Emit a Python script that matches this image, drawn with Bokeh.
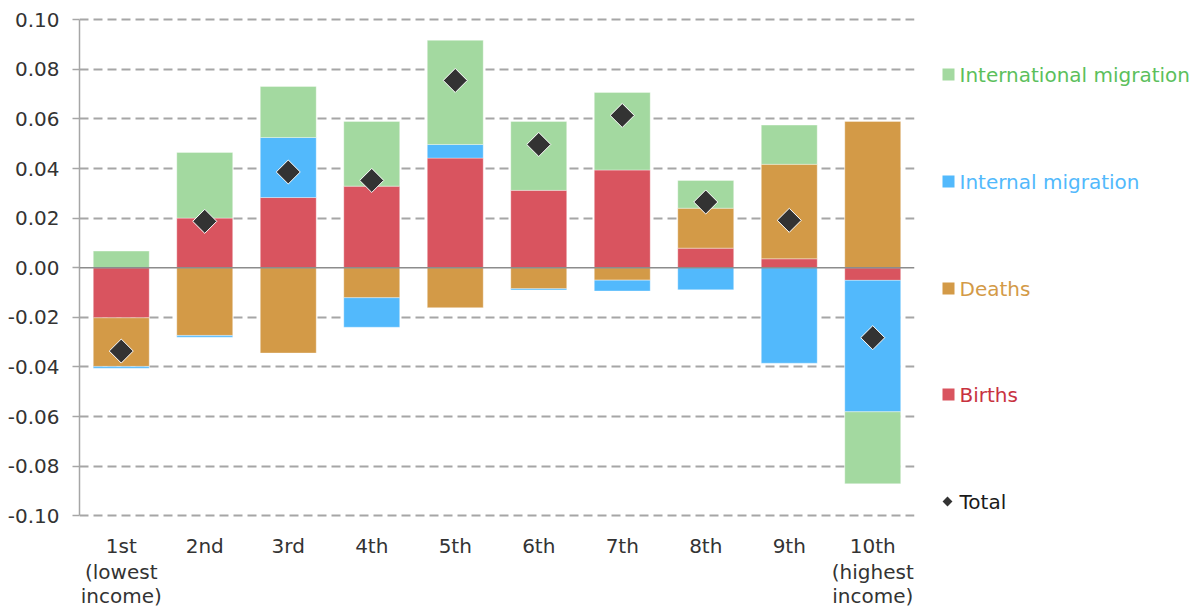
import numpy as np
from bokeh.plotting import figure
from bokeh.layouts import row
from bokeh.models import Range1d, FixedTicker, NumeralTickFormatter, Span, ColumnDataSource
from bokeh.core.properties import value
from bokeh.embed import file_html
from bokeh.resources import INLINE

categories = ["1st\n(lowest\nincome)", "2nd", "3rd", "4th", "5th", "6th", "7th", "8th", "9th", "10th\n(highest\nincome)"]
births = [-0.0202, 0.0200, 0.0283, 0.0329, 0.0442, 0.0312, 0.0394, 0.0079, 0.0036, -0.0051]
deaths = [-0.0196, -0.0273, -0.0344, -0.0121, -0.0161, -0.0085, -0.0050, 0.0161, 0.0381, 0.0590]
internal_migration = [-0.0007, -0.0007, 0.0242, -0.0119, 0.0055, -0.0005, -0.0044, -0.0089, -0.0385, -0.0530]
international_migration = [0.0067, 0.0265, 0.0206, 0.0261, 0.0420, 0.0278, 0.0313, 0.0112, 0.0158, -0.0290]
total = [-0.0336, 0.0187, 0.0386, 0.0352, 0.0755, 0.0497, 0.0614, 0.0265, 0.0191, -0.0282]
y_ticks = [-0.1, -0.08, -0.06, -0.04, -0.02, 0.0, 0.02, 0.04, 0.06, 0.08, 0.1]

series_names = ["Births", "Deaths", "Internal migration", "International migration"]
series_vals = [births, deaths, internal_migration, international_migration]
fill_colors = ["#d9545f", "#d39a47", "#52b9fc", "#a3d9a0"]
text_colors = ["#c8323f", "#d39a47", "#52b9fc", "#5cbf5c"]

FONT = "DejaVu Sans"
TXT = "#333333"
x = np.arange(1, len(categories) + 1)

# frame extends below the value axis so the category labels can be drawn as text glyphs
p = figure(width=928, height=608, x_range=Range1d(0.5, 10.5), y_range=Range1d(-0.1374, 0.1021),
           output_backend="svg", toolbar_location=None,
           min_border_left=79, min_border_right=14, min_border_top=14, min_border_bottom=0)
p.outline_line_color = None
p.xgrid.grid_line_color = None
p.ygrid.ticker = FixedTicker(ticks=[t for t in y_ticks if t != 0.0])
p.ygrid.grid_line_color = "#a6a6a6"
p.ygrid.grid_line_width = 2
p.ygrid.grid_line_dash = "9 5"

pos = np.zeros(len(x))
neg = np.zeros(len(x))
for name, vals, col in zip(series_names, series_vals, fill_colors):
    v = np.array(vals)
    bottom = np.where(v >= 0, pos, neg)
    top = bottom + v
    pos = np.where(v >= 0, top, pos)
    neg = np.where(v < 0, top, neg)
    p.vbar(x=x, bottom=bottom, top=top, width=0.67, fill_color=col,
           line_color="white", line_alpha=0.35, line_width=1)

p.add_layout(Span(location=0, dimension="width", line_color="#8c8c8c", line_width=1.5))

p.scatter(x=x, y=total, marker="square", size=17, angle=np.pi / 4,
          fill_color="#333333", line_color="white", line_width=1)

p.yaxis.ticker = FixedTicker(ticks=y_ticks)
p.yaxis.bounds = (-0.1, 0.1)
p.yaxis.formatter = NumeralTickFormatter(format="0.00")
p.yaxis.axis_line_color = "#a6a6a6"
p.yaxis.axis_line_width = 1.5
p.yaxis.major_tick_line_color = "#a6a6a6"
p.yaxis.major_tick_line_width = 1.5
p.yaxis.major_tick_out = 7
p.yaxis.major_tick_in = 0
p.yaxis.minor_tick_line_color = None
p.yaxis.major_label_standoff = 13
p.yaxis.major_label_text_font = FONT
p.yaxis.major_label_text_font_size = "20px"
p.yaxis.major_label_text_color = TXT

p.xaxis.visible = False

line_offsets = [30, 56, 80]
lx, ly, lt, lo = [], [], [], []
for xi, cat in zip(x, categories):
    for k, line in enumerate(cat.split("\n")):
        lx.append(float(xi)); ly.append(-0.1); lt.append(line); lo.append(line_offsets[k])
p.text(x="x", y="y", text="t", y_offset="o", source=ColumnDataSource(dict(x=lx, y=ly, t=lt, o=lo)),
       text_font=value(FONT), text_font_size="20px", text_color=TXT,
       text_align="center", text_baseline="alphabetic")

# legend panel (data y == page pixel row)
lg = figure(width=272, height=608, x_range=Range1d(0, 272), y_range=Range1d(608, 14),
            output_backend="svg", toolbar_location=None, x_axis_type=None, y_axis_type=None,
            min_border=0, min_border_top=14)
lg.outline_line_color = None
lg.xgrid.grid_line_color = None
lg.ygrid.grid_line_color = None
leg_names = ["International migration", "Internal migration", "Deaths", "Births"]
leg_fill = [fill_colors[3], fill_colors[2], fill_colors[1], fill_colors[0]]
leg_text = [text_colors[3], text_colors[2], text_colors[1], text_colors[0]]
leg_y = [74, 181, 288, 394]
lg.rect(x=[20] * 4, y=leg_y, width=12, height=12, fill_color=leg_fill, line_color=None)
src = ColumnDataSource(dict(x=[31] * 4, y=leg_y, t=leg_names, c=leg_text))
lg.text(x="x", y="y", text="t", text_color="c", source=src, text_font=value(FONT),
        text_font_size="20px", text_baseline="middle", text_align="left")
lg.scatter(x=[19], y=[501], marker="square", size=7, angle=np.pi / 4, fill_color="#333333", line_color=None)
lg.text(x=[31], y=[501], text=["Total"], text_color="#1a1a1a", text_font=value(FONT),
        text_font_size="20px", text_baseline="middle", text_align="left")

layout = row(p, lg)
open("out.html", "w").write(file_html(layout, INLINE))
